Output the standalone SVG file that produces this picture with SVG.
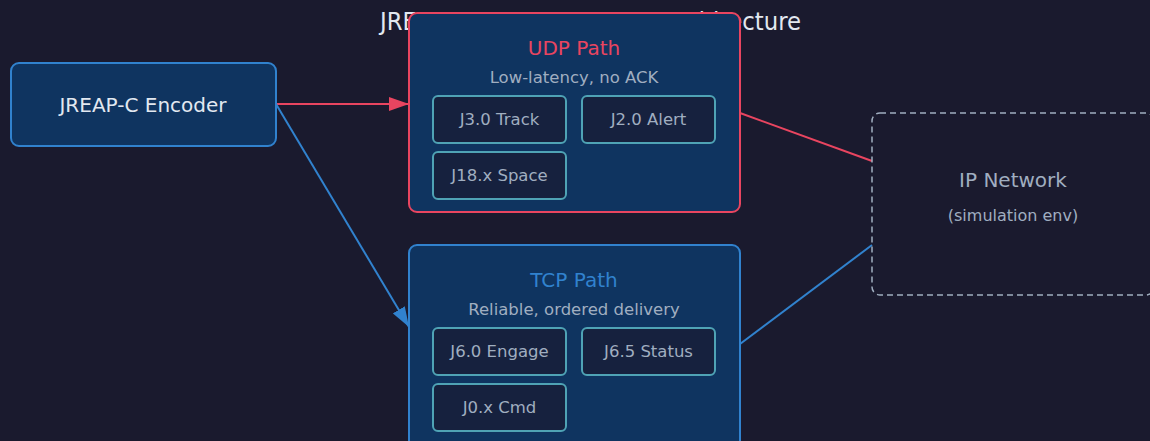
<svg xmlns="http://www.w3.org/2000/svg" width="1150" height="441" viewBox="0 0 1150 441">
<defs>
<marker id="ar" viewBox="0 0 20 14" refX="20" refY="7" markerWidth="10" markerHeight="7" markerUnits="strokeWidth" orient="auto"><path d="M0,0 L20,7 L0,14 z" fill="#e94560"/></marker>
<marker id="ab" viewBox="0 0 20 14" refX="20" refY="7" markerWidth="10" markerHeight="7" markerUnits="strokeWidth" orient="auto"><path d="M0,0 L20,7 L0,14 z" fill="#3182ce"/></marker>
<style>
text{font-family:"DejaVu Sans",sans-serif;text-anchor:middle}
.box{fill:#0f3460;stroke-width:2}
.inner{fill:#16213e;stroke:#4fa3b5;stroke-width:2}
.lbl{fill:#a0aec0;font-size:16.5px}
.sub{fill:#a0aec0;font-size:16.5px}
</style>
</defs>
<rect width="1150" height="441" fill="#1a1a2e"/>
<text x="380" y="30" font-size="24" fill="#e2e8f0" style="text-anchor:start" textLength="421" lengthAdjust="spacingAndGlyphs">JREAP-C Transport Layer Architecture</text>
<g id="connectors" fill="none" stroke-width="2">
<line x1="276" y1="104" x2="409" y2="104" stroke="#e94560" marker-end="url(#ar)"/>
<line x1="276" y1="104" x2="409" y2="327" stroke="#3182ce" marker-end="url(#ab)"/>
<line x1="740" y1="113" x2="872" y2="161" stroke="#e94560"/>
<line x1="740" y1="344" x2="872" y2="245" stroke="#3182ce"/>
</g>
<g id="encoder">
<rect class="box" x="11" y="63" width="265" height="83" rx="8" stroke="#3182ce"/>
<text x="143" y="112" font-size="20" fill="#e2e8f0">JREAP-C Encoder</text>
</g>
<g id="udp">
<rect class="box" x="409" y="13" width="331" height="199" rx="8" stroke="#e94560"/>
<text x="574" y="55" font-size="20" fill="#e94560">UDP Path</text>
<text class="sub" x="574" y="83">Low-latency, no ACK</text>
<g id="j30"><rect class="inner" x="433" y="96" width="133" height="47" rx="5"/><text class="lbl" x="499.5" y="125">J3.0 Track</text></g>
<g id="j20"><rect class="inner" x="582" y="96" width="133" height="47" rx="5"/><text class="lbl" x="648.5" y="125">J2.0 Alert</text></g>
<g id="j18"><rect class="inner" x="433" y="152" width="133" height="47" rx="5"/><text class="lbl" x="499.5" y="181">J18.x Space</text></g>
</g>
<g id="tcp">
<rect class="box" x="409" y="245" width="331" height="210" rx="8" stroke="#3182ce"/>
<text x="574" y="287" font-size="20" fill="#3182ce">TCP Path</text>
<text class="sub" x="574" y="315">Reliable, ordered delivery</text>
<g id="j60"><rect class="inner" x="433" y="328" width="133" height="47" rx="5"/><text class="lbl" x="499.5" y="357">J6.0 Engage</text></g>
<g id="j65"><rect class="inner" x="582" y="328" width="133" height="47" rx="5"/><text class="lbl" x="648.5" y="357">J6.5 Status</text></g>
<g id="j0x"><rect class="inner" x="433" y="384" width="133" height="47" rx="5"/><text class="lbl" x="499.5" y="413">J0.x Cmd</text></g>
</g>
<g id="ipnet">
<rect x="872" y="113" width="282" height="182" rx="8" fill="none" stroke="#a0aec0" stroke-width="1.5" stroke-dasharray="6,4"/>
<text x="1013" y="187" font-size="20" fill="#a0aec0">IP Network</text>
<text x="1013" y="221" font-size="16" fill="#a0aec0">(simulation env)</text>
</g>
</svg>
